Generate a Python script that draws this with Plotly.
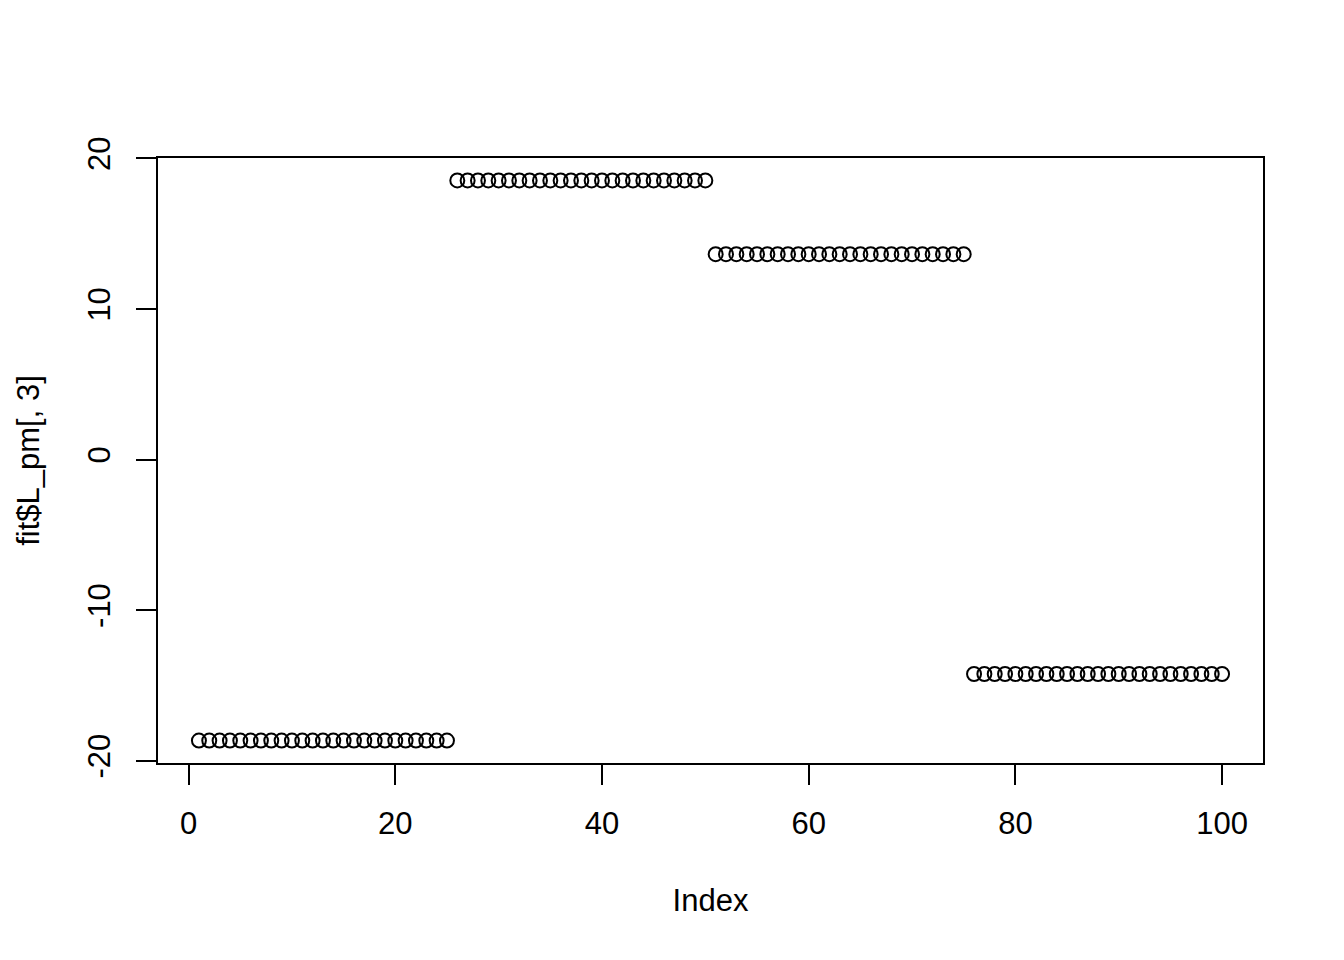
import plotly.graph_objects as go

# Data (index 1..100)
index = list(range(1, 101))
values = (
    [-18.66, -18.66, -18.66, -18.66, -18.66, -18.66, -18.66, -18.66, -18.66, -18.66,
     -18.66, -18.66, -18.66, -18.66, -18.66, -18.66, -18.66, -18.66, -18.66, -18.66,
     -18.66, -18.66, -18.66, -18.66, -18.66]
    + [18.54, 18.54, 18.54, 18.54, 18.54, 18.54, 18.54, 18.54, 18.54, 18.54,
       18.54, 18.54, 18.54, 18.54, 18.54, 18.54, 18.54, 18.54, 18.54, 18.54,
       18.54, 18.54, 18.54, 18.54, 18.54]
    + [13.64, 13.64, 13.64, 13.64, 13.64, 13.64, 13.64, 13.64, 13.64, 13.64,
       13.64, 13.64, 13.64, 13.64, 13.64, 13.64, 13.64, 13.64, 13.64, 13.64,
       13.64, 13.64, 13.64, 13.64, 13.64]
    + [-14.24, -14.24, -14.24, -14.24, -14.24, -14.24, -14.24, -14.24, -14.24, -14.24,
       -14.24, -14.24, -14.24, -14.24, -14.24, -14.24, -14.24, -14.24, -14.24, -14.24,
       -14.24, -14.24, -14.24, -14.24, -14.24]
)
x_ticks = [0, 20, 40, 60, 80, 100]
y_ticks = [-20, -10, 0, 10, 20]


def r_range(vals):
    lo, hi = min(vals), max(vals)
    ext = (hi - lo) * 0.04
    return [lo - ext, hi + ext]


FONT = "Liberation Sans, Arial, Helvetica, sans-serif"

fig = go.Figure()
fig.add_trace(go.Scatter(
    x=index, y=values, mode="markers",
    marker=dict(symbol="circle-open", size=14, color="black",
                line=dict(width=2, color="black")),
    showlegend=False, hoverinfo="skip",
))

axis_common = dict(
    showgrid=False, zeroline=False,
    showline=True, mirror=True, linecolor="black", linewidth=1.5,
    ticks="outside", ticklen=20, tickwidth=1.5, tickcolor="black",
    tickfont=dict(family=FONT, size=31, color="black"),
)

fig.update_layout(
    width=1344, height=960,
    paper_bgcolor="white", plot_bgcolor="white",
    margin=dict(l=150, r=89, t=150, b=205),
    font=dict(family=FONT, size=31, color="black"),
    xaxis=dict(
        range=r_range(index), tickvals=x_ticks,
        ticktext=[str(v) for v in x_ticks], ticklabelstandoff=12,
        title=dict(text="Index", font=dict(family=FONT, size=31), standoff=49),
        **axis_common,
    ),
    yaxis=dict(
        range=r_range(values), tickvals=y_ticks,
        ticktext=[str(v) for v in y_ticks], tickangle=-90, ticklabelstandoff=14,
        title=dict(text="fit$L_pm[, 3]", font=dict(family=FONT, size=31), standoff=33),
        **axis_common,
    ),
)

fig.write_html("out.html")
